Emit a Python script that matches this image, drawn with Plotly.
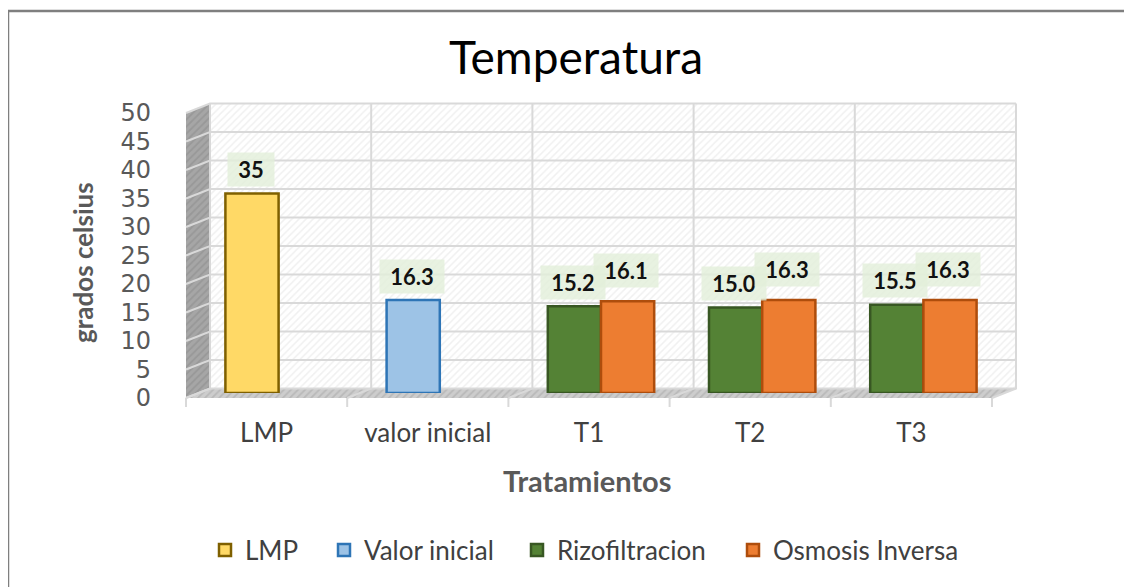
import plotly.graph_objects as go

# ---- data ----
categories = ["LMP", "valor inicial", "T1", "T2", "T3"]

lmp_x = ["LMP"]
lmp_y = [35]

valor_inicial_x = ["valor inicial"]
valor_inicial_y = [16.3]

rizofiltracion_x = ["T1", "T2", "T3"]
rizofiltracion_y = [15.2, 15.0, 15.5]

osmosis_x = ["T1", "T2", "T3"]
osmosis_y = [16.1, 16.3, 16.3]

y_ticks = [0, 5, 10, 15, 20, 25, 30, 35, 40, 45, 50]

# ---- page / geometry (pixels of the 1132x587 window) ----
OFF = 8                      # default body margin of the html page
W, H = 1132 - OFF, 587 - OFF


def px(x):
    return (x - OFF) / W


def py(y):
    return 1 - (y - OFF) / H


FX0, FX1 = 186, 992          # front edge of floor
FY0, FY50 = 398, 113         # front y for 0 and 50
DX, DY = 24, -9.5            # depth offset to the back wall
BAR_DX, BAR_DY = 12, -5      # bars sit at mid depth


def fy(v):
    return FY0 + (FY50 - FY0) * v / 50.0


GRID = "#d9d9d9"
FONT = "Lato"
TICKFONT = "DejaVu Sans"

fig = go.Figure()

# side wall
fig.add_trace(go.Scatter(
    x=[FX0, FX0 + DX, FX0 + DX, FX0, FX0],
    y=[fy(0), fy(0) + DY, fy(50) + DY, fy(50), fy(0)],
    fill="toself", mode="lines", line=dict(width=0), fillcolor="#a6a6a6",
    fillpattern=dict(shape="/", fgcolor="#8a8a8a", bgcolor="#a6a6a6", size=5, solidity=0.35),
    xaxis="x", yaxis="y", showlegend=False, hoverinfo="skip"))

# back wall
fig.add_trace(go.Scatter(
    x=[FX0 + DX, FX1 + DX, FX1 + DX, FX0 + DX, FX0 + DX],
    y=[fy(0) + DY, fy(0) + DY, fy(50) + DY, fy(50) + DY, fy(0) + DY],
    fill="toself", mode="lines", line=dict(width=0), fillcolor="white",
    fillpattern=dict(shape="/", fgcolor="#e2e2e2", bgcolor="white", size=5, solidity=0.3),
    xaxis="x", yaxis="y", showlegend=False, hoverinfo="skip"))

# floor
fig.add_trace(go.Scatter(
    x=[FX0, FX1, FX1 + DX, FX0 + DX, FX0],
    y=[fy(0), fy(0), fy(0) + DY, fy(0) + DY, fy(0)],
    fill="toself", mode="lines", line=dict(width=0), fillcolor="#c4c4c4",
    fillpattern=dict(shape="/", fgcolor="#a6a6a6", bgcolor="#cdcdcd", size=5, solidity=0.35),
    xaxis="x", yaxis="y", showlegend=False, hoverinfo="skip"))

# grid lines on walls and floor, plus the category tick marks under the floor
gx, gy = [], []
for v in y_ticks:
    gx += [FX0, FX0 + DX, FX1 + DX, None]
    gy += [fy(v), fy(v) + DY, fy(v) + DY, None]
step = (FX1 - FX0) / len(categories)
for k in range(len(categories) + 1):
    bx = FX0 + k * step
    gx += [bx, bx, None, bx, bx + DX, bx + DX, None]
    gy += [fy(0) + 9, fy(0), None, fy(0), fy(0) + DY, fy(50) + DY, None]
fig.add_trace(go.Scatter(x=gx, y=gy, mode="lines", line=dict(color=GRID, width=2),
                         xaxis="x", yaxis="y", showlegend=False, hoverinfo="skip"))

# ---- bars ----
series = [
    ("LMP", lmp_x, lmp_y, "#FFD966", "#7F6000", "a", "{:.0f}", "legend", 245),
    ("Valor inicial", valor_inicial_x, valor_inicial_y, "#9DC3E6", "#2E75B6", "a", "{:.1f}", "legend2", 364),
    ("Rizofiltracion", rizofiltracion_x, rizofiltracion_y, "#548235", "#385723", "a", "{:.1f}", "legend3", 557),
    ("Osmosis Inversa", osmosis_x, osmosis_y, "#ED7D31", "#AE4D0C", "b", "{:.1f}", "legend4", 773),
]
legends = {}
for name, xs, ys, fill, edge, grp, fmt, leg, text_x in series:
    fig.add_trace(go.Bar(
        x=xs, y=ys, name=name, offsetgroup=grp, legend=leg,
        marker=dict(color=fill, line=dict(color=edge, width=2.5)),
        xaxis="x2", yaxis="y2"))
    legends[leg] = dict(orientation="h", x=px(text_x - 40), y=py(550), xanchor="left",
                        yanchor="middle", bgcolor="rgba(0,0,0,0)",
                        font=dict(family=FONT, size=26, color="#404040"))
    for xv, yv in zip(xs, ys):
        label = fmt.format(yv)
        fig.add_annotation(
            x=xv, y=yv, xref="x2", yref="y2",
            text="<b>" + label + "</b>", showarrow=False,
            xshift=-28 if grp == "a" else 25, yshift=24 if grp == "a" else 31,
            width=9 * len(label) + 28, height=33, borderpad=0,
            font=dict(family=FONT, size=22, color="#111111"),
            bgcolor="rgba(226,239,218,0.8)")

# axis titles placed where the reference has them
fig.add_annotation(text="<b>Tratamientos</b>", x=px(587), y=py(480), xref="paper", yref="paper",
                   xanchor="center", yanchor="middle", showarrow=False,
                   font=dict(family=FONT, size=29, color="#595959"))
fig.add_annotation(text="<b>grados celsius</b>", x=px(83), y=py(262), xref="paper", yref="paper",
                   xanchor="center", yanchor="middle", showarrow=False, textangle=-90,
                   font=dict(family=FONT, size=26, color="#595959"))

fig.update_layout(
    width=W, height=H,
    margin=dict(l=0, r=0, t=0, b=0, autoexpand=False),
    paper_bgcolor="white", plot_bgcolor="rgba(0,0,0,0)",
    barmode="group", bargap=0.34, bargroupgap=0,
    title=dict(text="Temperatura", x=px(576), y=py(58), xanchor="center", yanchor="middle",
               font=dict(family=FONT, size=46, color="#000000")),
    font=dict(family=FONT, color="#404040"),
    # decoration axes in window pixel units
    xaxis=dict(domain=[0, 1], range=[OFF, OFF + W], visible=False, fixedrange=True),
    yaxis=dict(domain=[0, 1], range=[OFF + H, OFF], visible=False, fixedrange=True),
    # bar axes at mid depth; labels shifted back to the front edge
    xaxis2=dict(domain=[px(FX0 + BAR_DX), px(FX1 + BAR_DX)], anchor="y2", type="category",
                categoryorder="array", categoryarray=categories,
                range=[-0.5, len(categories) - 0.5], fixedrange=True,
                ticks="", showgrid=False, zeroline=False, showline=False,
                tickfont=dict(family=FONT, size=26, color="#404040"),
                ticklabelshift=-BAR_DX, ticklabelstandoff=22),
    yaxis2=dict(domain=[py(fy(0) + BAR_DY), py(fy(50) + BAR_DY)], anchor="x2",
                range=[0, 50], fixedrange=True,
                tickmode="array", tickvals=y_ticks, ticks="", showgrid=False, zeroline=False,
                showline=False, ticklabelstandoff=46, ticklabelshift=-BAR_DY,
                tickfont=dict(family=TICKFONT, size=24, color="#595959")),
    shapes=[dict(type="rect", xref="paper", yref="paper", x0=0, x1=1.02, y0=-0.05,
                 y1=py(11), line=dict(color="#7f7f7f", width=2.5), fillcolor="rgba(0,0,0,0)")],
    **legends,
)

fig.write_html("out.html")
